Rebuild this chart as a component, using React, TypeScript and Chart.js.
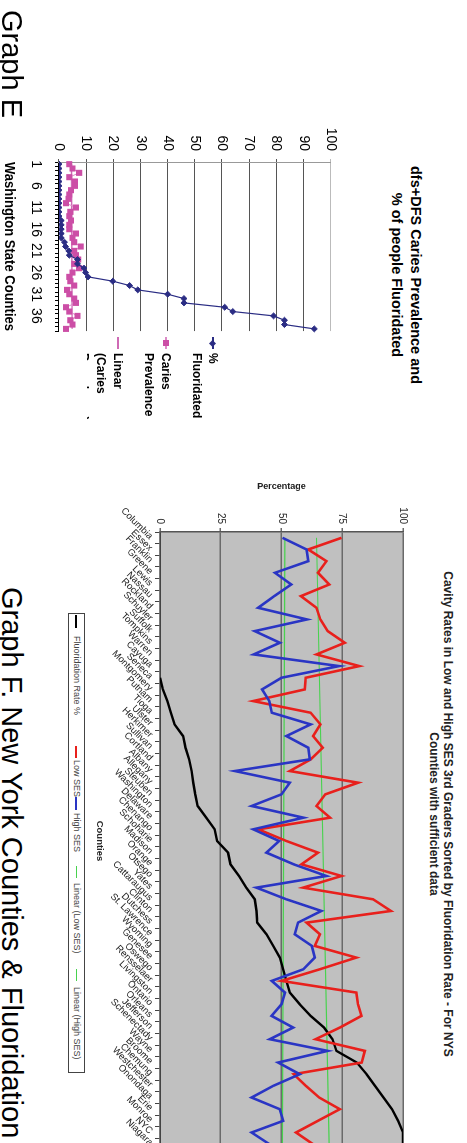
import React, { useEffect, useRef } from "react";
import { Chart, registerables } from "chart.js";

Chart.register(...registerables);

const FONT = "'Liberation Sans', Arial, Helvetica, sans-serif";

// ---------- Graph E : Washington State ----------
const waCounties = [
  "1", "2", "3", "4", "5", "6", "7", "8", "9", "10",
  "11", "12", "13", "14", "15", "16", "17", "18", "19", "20",
  "21", "22", "23", "24", "25", "26", "27", "28", "29", "30",
  "31", "32", "33", "34", "35", "36", "37", "38", "39",
];
const waShownLabels = ["1", "6", "11", "16", "21", "26", "31", "36"];
const waFluoridated = [
  0, 0, 0, 0, 0, 0, 0, 0, 0, 0,
  0, 0, 0, 0.8, 0.8, 0.8, 0.8, 0.8, 2.0, 2.4,
  3.6, 3.8, 6.8, 6.8, 9.2, 9.8, 10.7, 19.8, 26, 29,
  40, 46, 46, 61, 64, 79, 83, 83, 94,
];
const waCaries = [
  3.8, 5.0, 7.4, 3.8, 5.9, 5.9, 4.4, 3.8, 3.5, 2.6,
  6.2, 4.2, 3.8, 4.4, 3.8, 3.8, 6.2, 5.0, 5.6, 8.0,
  5.6, 6.2, 7.1, 5.6, 7.4, 5.0, 3.8, 4.2, 5.6, 3.0,
  3.8, 5.6, 6.2, 2.6, 3.8, 6.8, 4.2, 5.0, 2.6,
];
const waCariesTrendEnds = [4.6, 4.8];

// ---------- Graph F : New York State ----------
const nyCounties = [
  "Columbia", "Essex", "Franklin", "Greene", "Lewis", "Nassau", "Rockland", "Schuyler", "Suffolk", "Tompkins",
  "Warren", "Cayuga", "Seneca", "Montgomery", "Putnam", "Tioga", "Ulster", "Herkimer", "Sullivan", "Cortland",
  "Albany", "Allegany", "Steuben", "Washington", "Delaware", "Chenango", "Schoharie", "Madison", "Orange", "Otsego",
  "Yates", "Cattaraugus", "Clinton", "Dutchess", "St. Lawrence", "Wyoming", "Genesee", "Oswego", "Rensselaer", "Livingston",
  "Ontario", "Orleans", "Jefferson", "Schenectady", "Wayne", "Broome", "Chemung", "Westchester", "Onondaga", "Erie",
  "Monroe", "NYC", "Niagara",
];
const nyFluoridation = [
  null, null, null, null, null, null, null, null, null, null,
  null, null, 0, 1.2, 3, 4.5, 6, 9.5, 10.5, 12,
  13, 13.7, 14.5, 15.5, 19, 22.5, 23.5, 28, 29, 32.5,
  35.5, 39, 39.7, 40, 43.8, 46.6, 49.3, 50.7, 52, 53.4,
  57.5, 62, 67.5, 71, 72.6, 81, 85, 88.5, 92, 95.5,
  98, 100, 100,
];
const nyLowSES = [
  74.7, 61, 68.5, 65, 69.6, 58, 64.4, 66, 69, 76,
  64.4, 82, 60, 59.6, 38.4, 62, 66, 63, 67, 62,
  53.4, 81.5, 68, 64.4, 70, 40.4, 52, 65, 58.2, 74.7,
  58.9, 87.7, 95, 60.3, 65.8, 63.7, 80.8, 65.8, 50, 80.8,
  81.5, 82.9, 74, 64, 84.3, 83, 55, 60, 65.5, 74,
  65, 56, 63,
];
const nyHighSES = [
  50.4, 60.3, 61, 47.3, 54, 47, 40.4, 60.5, 39, 49.3,
  38.6, 73.7, 50, 42, 45, 46, 62, 52, 61, 61.6,
  30.8, 53.4, 50, 37.7, 59, 38.4, 49, 43.8, 55, 68.5,
  39.7, 52, 66.4, 56.8, 55.5, 62.5, 63.7, 59, 46, 51.4,
  50, 45.9, 54.8, 45.2, 69, 48.6, 57.5, 46.6, 37.7, 49.3,
  50.7, 37.7, 45,
];
const nyLowTrendEnds = [64.4, 69.6];
const nyHighTrendEnds = [51.4, 50.4];

// colours
const NAVY = "#2b2d84";
const PINK = "#cc4ea6";
const PINK_LINE = "#dc8bc7";
const PINK_TREND = "#cf6ab5";
const RED = "#e8201c";
const BLUE = "#2a35c4";
const GREEN = "#48d24e";

function trendSeries(n: number, ends: number[]) {
  const a: (number | null)[] = new Array(n).fill(null);
  a[0] = ends[0];
  a[n - 1] = ends[1];
  return a;
}

const plotBackground = (color: string) => ({
  id: "plotBackground",
  beforeDraw(chart: any) {
    const { ctx, chartArea } = chart;
    if (!chartArea) return;
    ctx.save();
    ctx.fillStyle = color;
    ctx.fillRect(chartArea.left, chartArea.top, chartArea.right - chartArea.left, chartArea.bottom - chartArea.top);
    ctx.restore();
  },
});

function makeWashington(): any {
  return {
    type: "line",
    data: {
      labels: waCounties,
      datasets: [
        {
          label: "% Fluoridated",
          data: waFluoridated,
          borderColor: NAVY,
          backgroundColor: NAVY,
          borderWidth: 1.2,
          pointStyle: "rectRot",
          pointRadius: 3,
          pointBorderWidth: 1,
          pointBackgroundColor: NAVY,
          pointBorderColor: NAVY,
          tension: 0,
        },
        {
          label: "Caries Prevalence",
          data: waCaries,
          borderColor: PINK_LINE,
          backgroundColor: PINK,
          borderWidth: 1,
          pointStyle: "rect",
          pointRadius: 4.3,
          pointBorderWidth: 0,
          pointBackgroundColor: PINK,
          pointBorderColor: PINK,
          tension: 0,
        },
        {
          label: "Linear (Caries Prevalence)",
          data: trendSeries(waCounties.length, waCariesTrendEnds),
          borderColor: PINK_TREND,
          borderWidth: 1.3,
          pointRadius: 0,
          spanGaps: true,
        },
      ],
    },
    options: {
      responsive: false,
      animation: false,
      devicePixelRatio: 1,
      layout: { padding: { top: 10, right: 8, left: 0, bottom: 0 } },
      plugins: { legend: { display: false }, tooltip: { enabled: false }, title: { display: false } },
      scales: {
        x: {
          type: "category",
          offset: true,
          grid: { display: true, drawOnChartArea: false, offset: true, tickLength: 4, color: "#000", lineWidth: 1 },
          border: { display: true, color: "#000", width: 1 },
          ticks: {
            autoSkip: false,
            maxRotation: 0,
            minRotation: 0,
            padding: 11,
            color: "#000",
            font: { family: FONT, size: 14 },
            callback: (_v: any, i: number) => {
              const l = waCounties[i];
              return waShownLabels.includes(l) ? l : "";
            },
          },
          title: {
            display: true,
            text: "Washington State Counties",
            color: "#000",
            font: { family: FONT, size: 14.5, weight: "bold" },
            padding: { top: 0, bottom: 3 },
          },
          afterFit: (s: any) => {
            s.height = 62;
          },
        },
        y: {
          min: 0,
          max: 100,
          ticks: { stepSize: 10, padding: 8, color: "#000", font: { family: FONT, size: 14 } },
          grid: {
            color: (c: any) => (c.tick && c.tick.value === 100 ? "#bbbbbb" : "#555555"),
            tickLength: 3,
            lineWidth: 1,
          },
          border: { display: true, color: "#999999" },
          afterFit: (s: any) => {
            s.width = 62;
          },
        },
      },
    },
  };
}

function makeNewYork(): any {
  return {
    type: "line",
    data: {
      labels: nyCounties,
      datasets: [
        { label: "High SES", data: nyHighSES, borderColor: BLUE, borderWidth: 2.6, pointRadius: 0, tension: 0 },
        { label: "Low SES", data: nyLowSES, borderColor: RED, borderWidth: 2.6, pointRadius: 0, tension: 0 },
        { label: "Fluoridation Rate %", data: nyFluoridation, borderColor: "#000", borderWidth: 2.4, pointRadius: 0, tension: 0 },
        {
          label: "Linear (Low SES)",
          data: trendSeries(nyCounties.length, nyLowTrendEnds),
          borderColor: GREEN,
          borderWidth: 1.2,
          pointRadius: 0,
          spanGaps: true,
        },
        {
          label: "Linear (High SES)",
          data: trendSeries(nyCounties.length, nyHighTrendEnds),
          borderColor: GREEN,
          borderWidth: 1.2,
          pointRadius: 0,
          spanGaps: true,
        },
      ],
    },
    plugins: [plotBackground("#c0c0c0")],
    options: {
      responsive: false,
      animation: false,
      devicePixelRatio: 1,
      layout: { padding: { top: 14, right: 10, left: 0, bottom: 0 } },
      plugins: { legend: { display: false }, tooltip: { enabled: false }, title: { display: false } },
      scales: {
        x: {
          type: "category",
          offset: true,
          grid: { display: true, drawOnChartArea: false, offset: true, tickLength: 5, color: "#444", lineWidth: 1 },
          border: { display: true, color: "#444", width: 1.5 },
          ticks: {
            autoSkip: false,
            minRotation: 45,
            maxRotation: 45,
            padding: 0,
            color: "#222",
            font: { family: FONT, size: 9.5 },
          },
          title: {
            display: true,
            text: "Counties",
            color: "#222",
            font: { family: FONT, size: 9.5, weight: "bold" },
            padding: { top: 0, bottom: 7 },
          },
          afterFit: (s: any) => {
            s.height = 73;
          },
        },
        y: {
          min: 0,
          max: 100,
          ticks: { stepSize: 25, padding: 4, color: "#222", font: { family: FONT, size: 10 } },
          grid: { color: "#6a6a6a", lineWidth: 1.5, tickLength: 4 },
          border: { display: true, color: "#555", width: 1.5 },
          title: {
            display: true,
            text: "Percentage",
            color: "#222",
            font: { family: FONT, size: 9, weight: "bold" },
            padding: { top: 11, bottom: 0 },
          },
          afterFit: (s: any) => {
            s.width = 62;
          },
        },
      },
    },
  };
}

function ChartBox({ left, top, width, height, make }: { left: number; top: number; width: number; height: number; make: () => any }) {
  const ref = useRef<HTMLCanvasElement | null>(null);
  useEffect(() => {
    if (!ref.current) return;
    const chart = new Chart(ref.current, make());
    return () => chart.destroy();
  }, [make]);
  return (
    <div style={{ position: "absolute", left, top, width, height }}>
      <canvas ref={ref} width={width} height={height} style={{ display: "block", width, height }} />
    </div>
  );
}

function Txt({
  x,
  cy,
  size,
  bold = false,
  color = "#000",
  center = false,
  children,
}: {
  x: number;
  cy: number;
  size: number;
  bold?: boolean;
  color?: string;
  center?: boolean;
  children: React.ReactNode;
}) {
  const lh = Math.round(size * 1.2);
  const style: React.CSSProperties = {
    position: "absolute",
    top: cy - lh / 2,
    height: lh,
    lineHeight: `${lh}px`,
    fontSize: size,
    fontWeight: bold ? 700 : 400,
    color,
    fontFamily: FONT,
    whiteSpace: "nowrap",
  };
  if (center) {
    style.left = x - 400;
    style.width = 800;
    style.textAlign = "center";
  } else {
    style.left = x;
  }
  return <div style={style}>{children}</div>;
}

function HLine({ x1, x2, cy, color, w }: { x1: number; x2: number; cy: number; color: string; w: number }) {
  return <div style={{ position: "absolute", left: x1, top: cy - w / 2, width: x2 - x1, height: w, background: color }} />;
}

export default function App() {
  return (
    <div style={{ position: "absolute", left: 0, top: 0, width: 467, height: 1143, overflow: "hidden", background: "#fff" }}>
      <div
        style={{
          position: "absolute",
          left: 0,
          top: 0,
          width: 1143,
          height: 467,
          transformOrigin: "0 0",
          transform: "translate(467px, 0px) rotate(90deg)",
        }}
      >
        {/* ---------- Graph E ---------- */}
        <Txt x={275} cy={51} size={14.5} bold center>
          dfs+DFS Caries Prevalence and
        </Txt>
        <Txt x={275} cy={70.5} size={14.5} bold center>
          % of people Fluoridated
        </Txt>
        <ChartBox left={100} top={120} width={240} height={350} make={makeWashington} />

        <div style={{ position: "absolute", left: 330, top: 240, width: 120, height: 140, overflow: "hidden" }}>
          <HLine x1={7} x2={19} cy={14} color={NAVY} w={1.5} />
          <div
            style={{
              position: "absolute",
              left: 10.5,
              top: 11.5,
              width: 5,
              height: 5,
              background: NAVY,
              transform: "rotate(45deg)",
            }}
          />
          <Txt x={23} cy={14} size={12} bold>
            %
          </Txt>
          <Txt x={23} cy={30} size={12} bold>
            Fluoridated
          </Txt>

          <HLine x1={7} x2={19} cy={61} color={PINK_LINE} w={1.5} />
          <div style={{ position: "absolute", left: 10, top: 58, width: 6, height: 6, background: PINK }} />
          <Txt x={23} cy={61} size={12} bold>
            Caries
          </Txt>
          <Txt x={23} cy={78} size={12} bold>
            Prevalence
          </Txt>

          <HLine x1={7} x2={19} cy={109} color={PINK_TREND} w={1.5} />
          <Txt x={23} cy={109} size={12} bold>
            Linear
          </Txt>
          <Txt x={23} cy={126} size={12} bold>
            (Caries
          </Txt>
          <Txt x={23} cy={143} size={12} bold>
            Prevalence)
          </Txt>
        </div>

        <Txt x={10} cy={455.6} size={29}>
          Graph E
        </Txt>

        {/* ---------- Graph F ---------- */}
        <Txt x={814} cy={19} size={12} bold color="#222" center>
          Cavity Rates in Low and High SES 3rd Graders Sorted by Fluoridation Rate - For NYS
        </Txt>
        <Txt x={814} cy={33} size={12} bold color="#222" center>
          Counties with sufficient data
        </Txt>
        <ChartBox left={470} top={50} width={690} height={330} make={makeNewYork} />

        <div
          style={{
            position: "absolute",
            left: 613,
            top: 382,
            width: 460,
            height: 17,
            border: "1px solid #444",
            boxSizing: "border-box",
            background: "#fff",
          }}
        />
        <HLine x1={615} x2={628} cy={390.5} color="#000" w={2} />
        <Txt x={636} cy={390.5} size={9} color="#444">
          Fluoridation Rate %
        </Txt>
        <HLine x1={746} x2={758} cy={390.5} color={RED} w={2} />
        <Txt x={760} cy={390.5} size={9} color="#444">
          Low SES
        </Txt>
        <HLine x1={797} x2={810} cy={390.5} color={BLUE} w={2} />
        <Txt x={813} cy={390.5} size={9} color="#444">
          High SES
        </Txt>
        <HLine x1={866} x2={878} cy={390.5} color={GREEN} w={1.5} />
        <Txt x={883} cy={390.5} size={9} color="#444">
          Linear (Low SES)
        </Txt>
        <HLine x1={969} x2={981} cy={390.5} color={GREEN} w={1.5} />
        <Txt x={987} cy={390.5} size={9} color="#444">
          Linear (High SES)
        </Txt>

        <Txt x={587} cy={455.6} size={29}>
          Graph F. New York Counties &amp; Fluoridation
        </Txt>
      </div>
    </div>
  );
}
